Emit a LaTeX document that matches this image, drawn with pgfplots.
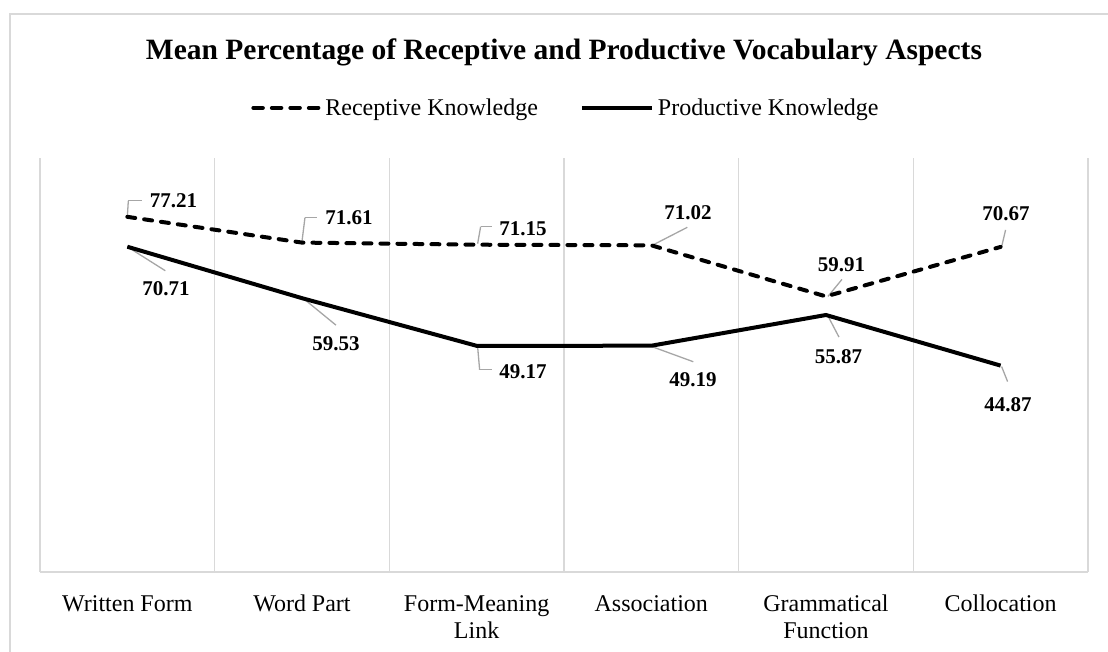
\documentclass[border=0pt]{standalone}
\usepackage{pgfplots}
\pgfplotsset{compat=1.18}
\usepackage{pgfplotstable}
\usepackage{fontspec}
\setmainfont{Liberation Serif}
\definecolor{gridgray}{HTML}{D9D9D9}
\definecolor{leadgray}{HTML}{A6A6A6}

\pgfplotstableread{
x y dx dy
0 77.21 46.2 15.8
1 71.61 47.0 24.6
2 71.15 46.3 15.7
3 71.02 36.7 32.8
4 59.91 15.5 31.9
5 70.67 5.3 32.9
}\receptive

\pgfplotstableread{
x y dx dy
0 70.71 38.7 -41.8
1 59.53 34.0 -45.3
2 49.17 46.3 -25.7
3 49.19 41.7 -34.3
4 55.87 12.5 -41.5
5 44.87 7.3 -39.4
}\productive

% leader lines (base point and vector, axis units)
\pgfplotstableread{
x y u v
0 77.21 0.0057 3.48
0.0057 80.69 0.080 0
1 71.83 0.0172 5.22
1.0172 77.05 0.0687 0
2.0057 71.37 0.0172 3.70
2.0229 75.07 0.063 0
3.0057 71.02 0.2004 3.91
4.0115 59.91 0.0802 3.70
5.0057 70.67 0.0229 3.70
0 70.71 0.2176 -5.22
1.0057 59.53 0.189 -5.87
2.0057 48.95 0.0115 -5.0
2.0172 43.95 0.0687 0
3.0057 48.97 0.2347 -3.26
4.0115 55.65 0.063 -4.57
5.0057 44.65 0.0344 -3.26
}\leaders

\begin{document}
\begin{tikzpicture}
\useasboundingbox (-40pt,-80pt) rectangle (1068pt,572pt);
\begin{axis}[
  scale only axis, width=1048pt, height=414pt,
  xmin=-0.5, xmax=5.5, ymin=0, ymax=90,
  axis x line*=bottom, axis y line=none,
  x axis line style={gridgray, line width=1.5pt, -},
  xtick={0,1,2,3,4,5},
  xticklabels={Written Form, Word Part, {Form-Meaning\\Link}, Association, {Grammatical\\Function}, Collocation},
  typeset ticklabels with strut,
  x tick label style={align=center, font=\fontsize{24}{27.6}\selectfont, anchor=north, inner sep=0pt, yshift=-19.7pt},
  major tick length=0pt, minor tick length=0pt,
  minor xtick={-0.5,0.5,1.5,2.5,3.5,4.5,5.5},
  xminorgrids, minor x grid style={gridgray, line width=1.5pt},
  ytick=\empty,
  clip=false,
  title={Mean Percentage of Receptive and Productive Vocabulary Aspects},
  title style={at={(0.5,1)}, anchor=base, yshift=92pt, inner sep=0pt, font=\bfseries\fontsize{29.5}{34}\selectfont},
  legend columns=2,
  legend style={draw=none, fill=none, at={(0.5,1.121)}, anchor=center, xshift=3pt,
    font=\fontsize{24}{28}\selectfont, nodes={inner sep=4pt},
    /tikz/every even column/.append style={column sep=38pt}},
  legend image code/.code={\draw[#1] (0pt,0pt) -- (70pt,0pt);},
]
\addplot[forget plot, quiver={u=\thisrow{u}, v=\thisrow{v}}, -, leadgray, line width=1.3pt, no markers] table[x=x, y=y] {\leaders};

\addplot[black, line width=4pt, dash pattern=on 8pt off 9pt, line cap=round, no markers,
  legend image code/.code={\draw[##1, dash pattern=on 9.5pt off 9pt] (2pt,0pt) -- (68pt,0pt);},
  nodes near coords={\pgfmathprintnumber[fixed,fixed zerofill,precision=2,assume math mode=true]{\pgfplotspointmeta}},
  visualization depends on={\thisrow{dx} \as \lblx},
  visualization depends on={\thisrow{dy} \as \lbly},
  every node near coord/.style={anchor=center, xshift=\lblx pt, yshift=\lbly pt, font=\bfseries\fontsize{21}{25}\selectfont, text=black, solid}]
  table[x=x, y=y] {\receptive};
\addlegendentry{Receptive Knowledge}

\addplot[black, line width=4pt, no markers,
  nodes near coords={\pgfmathprintnumber[fixed,fixed zerofill,precision=2,assume math mode=true]{\pgfplotspointmeta}},
  visualization depends on={\thisrow{dx} \as \lblx},
  visualization depends on={\thisrow{dy} \as \lbly},
  every node near coord/.style={anchor=center, xshift=\lblx pt, yshift=\lbly pt, font=\bfseries\fontsize{21}{25}\selectfont, text=black}]
  table[x=x, y=y] {\productive};
\addlegendentry{Productive Knowledge}
\end{axis}
\draw[gridgray, line width=1.5pt] (-30pt,-80pt) -- (-30pt,558pt) -- (1068pt,558pt);
\end{tikzpicture}
\end{document}
